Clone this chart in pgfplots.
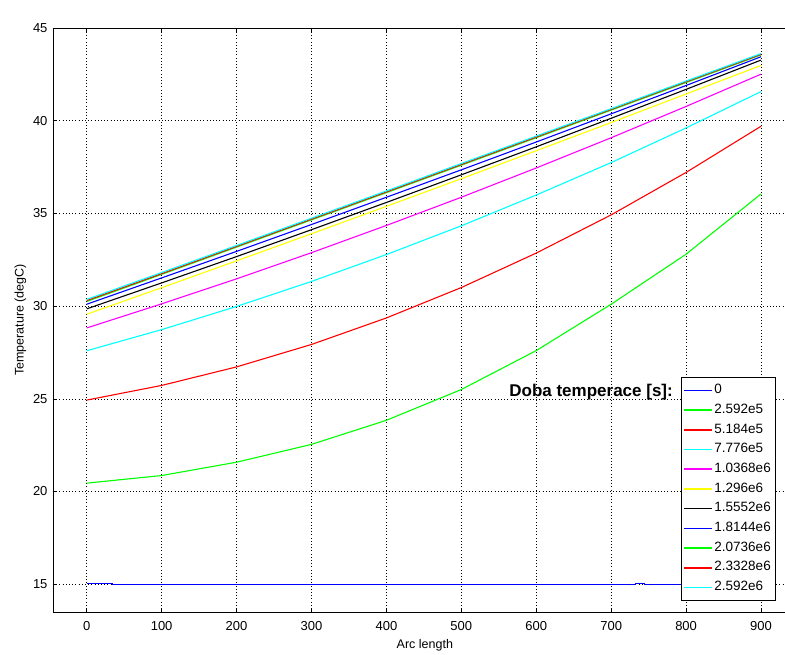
\documentclass[border=0pt]{standalone}
\usepackage{fontspec}
\setmainfont{Liberation Sans}
\usepackage{pgfplots}
\pgfplotsset{compat=1.18}
\definecolor{mblue}{RGB}{0,0,255}
\definecolor{mgreen}{RGB}{0,255,0}
\definecolor{mred}{RGB}{255,0,0}
\definecolor{mcyan}{RGB}{0,255,255}
\definecolor{mmagenta}{RGB}{255,0,255}
\definecolor{myellow}{RGB}{255,255,0}

\begin{document}
\begin{tikzpicture}
\begin{axis}[
    name=ax,
    scale only axis,
    width=732pt, height=584pt,
    xmin=-45, xmax=932,
    ymin=13.5, ymax=45,
    xtick={0,100,...,900},
    ytick={15,20,...,45},
    axis x line*=box,
    axis y line*=left,
    axis line style={-, black, line width=0.9pt},
    every outer x axis line/.append style={-},
    every outer y axis line/.append style={-},
    tick align=inside,
    major tick length=4pt,
    tick style={black, line width=0.5pt},
    grid=major,
    grid style={black, line width=0.5pt, dash pattern=on 0.8pt off 2.4pt},
    /pgf/number format/assume math mode=true,
    tick label style={font=\fontsize{13}{15}\selectfont},
    xticklabel style={yshift=-6pt},
    yticklabel style={xshift=-2pt},
    xlabel={Arc length},
    ylabel={Temperature (degC)},
    label style={font=\fontsize{12.5}{14}\selectfont},
    xlabel style={at={(0.508,0)}, anchor=center, yshift=-33pt},
    legend cell align=left,
    legend style={
        at={(0.858,0.402)}, anchor=north west,
        draw=black, line width=0.8pt, fill=white,
        inner xsep=3pt, inner ysep=3pt, row sep=0pt,
        font=\fontsize{13.5}{15}\selectfont,
        nodes={inner ysep=0pt, inner xsep=2pt, text height=13pt, text depth=6.7pt},
    },
    legend image code/.code={\fill[#1, draw=none] (0pt,-0.8pt) rectangle (28pt,0.8pt);},
    every axis plot/.append style={line width=1.1pt},
]

\addplot[mblue] coordinates {
    (0,15.06) (34,15.06) (34,15.0) (733,15.0) (733,15.05) (744,15.05)
    (744,15.0) (764,15.0) (764,14.97) (900,14.97)
};
\addlegendentry{0}

\addplot[mgreen] coordinates {
    (0,20.45) (100,20.86) (200,21.58) (300,22.54) (400,23.84)
    (500,25.5) (600,27.6) (700,30.1) (800,32.8) (900,36.05)
};
\addlegendentry{2.592e5}

\addplot[mred] coordinates {
    (0,24.93) (100,25.72) (200,26.72) (300,27.93) (400,29.36)
    (500,31.0) (600,32.86) (700,34.92) (800,37.21) (900,39.70)
};
\addlegendentry{5.184e5}

\addplot[mcyan] coordinates {
    (0,27.59) (100,28.73) (200,29.98) (300,31.33) (400,32.78)
    (500,34.33) (600,35.99) (700,37.74) (800,39.61) (900,41.57)
};
\addlegendentry{7.776e5}

\addplot[mmagenta] coordinates {
    (0,28.82) (100,30.12) (200,31.47) (300,32.88) (400,34.35)
    (500,35.87) (600,37.45) (700,39.08) (800,40.77) (900,42.51)
};
\addlegendentry{1.0368e6}

\addplot[myellow] coordinates {
    (0,29.56) (100,30.99) (200,32.44) (300,33.90) (400,35.38)
    (500,36.87) (600,38.38) (700,39.90) (800,41.44) (900,42.98)
};
\addlegendentry{1.296e6}

\addplot[black] coordinates {
    (0,29.85) (100,31.25) (200,32.67) (300,34.12) (400,35.59)
    (500,37.08) (600,38.59) (700,40.13) (800,41.69) (900,43.27)
};
\addlegendentry{1.5552e6}

\addplot[mblue] coordinates {
    (0,30.10) (100,31.52) (200,32.95) (300,34.40) (400,35.87)
    (500,37.35) (600,38.85) (700,40.37) (800,41.90) (900,43.45)
};
\addlegendentry{1.8144e6}

\addplot[mgreen] coordinates {
    (0,30.25) (100,31.71) (200,33.18) (300,34.65) (400,36.12)
    (500,37.60) (600,39.08) (700,40.57) (800,42.06) (900,43.55)
};
\addlegendentry{2.0736e6\hspace{12pt}}

\addplot[mred] coordinates {
    (0,30.30) (100,31.75) (200,33.22) (300,34.69) (400,36.16)
    (500,37.64) (600,39.12) (700,40.61) (800,42.10) (900,43.58)
};
\addlegendentry{2.3328e6}

\addplot[mcyan] coordinates {
    (0,30.36) (100,31.81) (200,33.27) (300,34.74) (400,36.21)
    (500,37.69) (600,39.17) (700,40.65) (800,42.14) (900,43.62)
};
\addlegendentry{2.592e6}

\node[anchor=east, font=\fontsize{17}{19}\selectfont\bfseries, inner sep=0pt]
    at (rel axis cs:0.847,0.377) {Doba temperace [s]:};
\node[anchor=center, font=\fontsize{12.5}{14}\selectfont]
    at (rel axis cs:0.508,1) [yshift=13pt] {Line Graph: Temperature (degC)};
\end{axis}
\pgfresetboundingbox
\path ([shift={(-53pt,-43pt)}]ax.south west) rectangle ([shift={(0pt,28pt)}]ax.north east);
\end{tikzpicture}
\end{document}
